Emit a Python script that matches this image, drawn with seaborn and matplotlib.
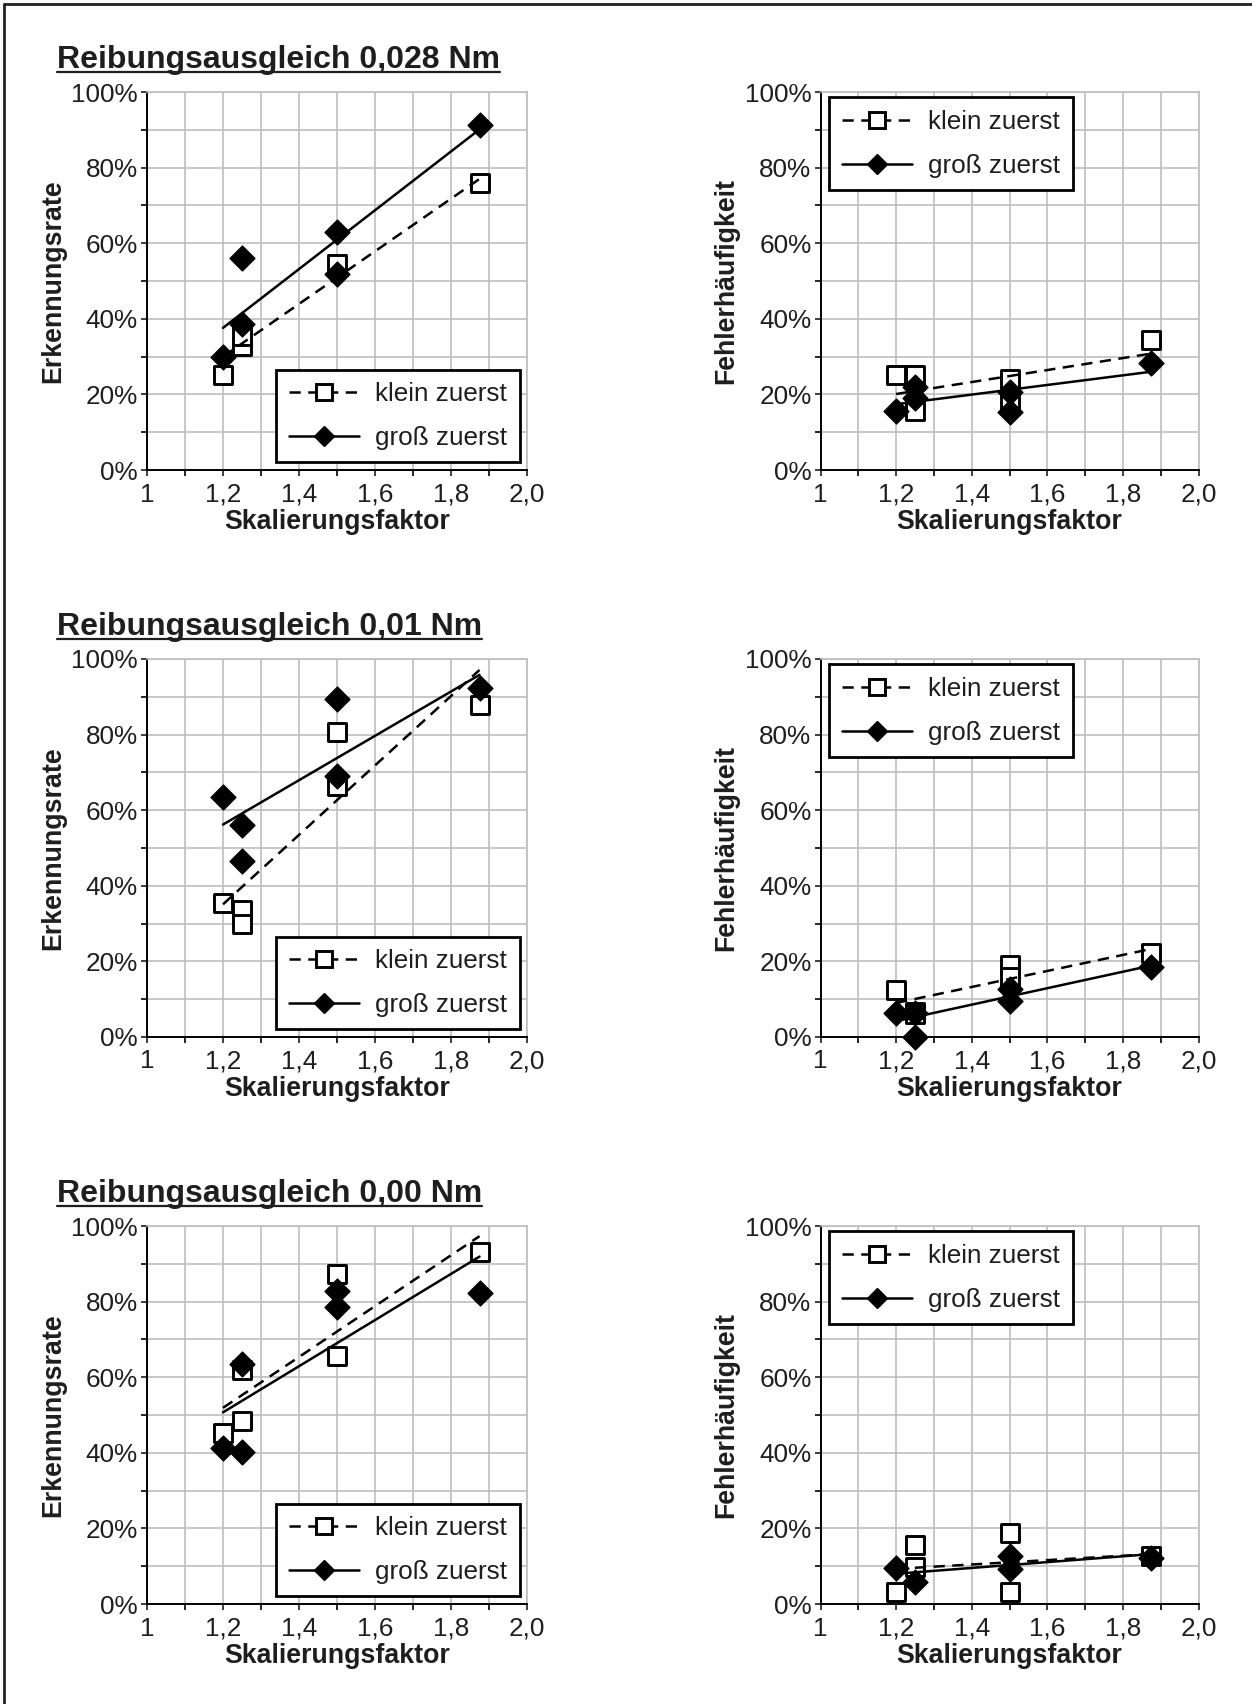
import numpy as np
import pandas as pd
import seaborn as sns
import matplotlib.pyplot as plt
from matplotlib.lines import Line2D
from matplotlib.ticker import MultipleLocator, FuncFormatter

titles = ["Reibungsausgleich 0,028 Nm", "Reibungsausgleich 0,01 Nm", "Reibungsausgleich 0,00 Nm"]
ylabel_left = "Erkennungsrate"
ylabel_right = "Fehlerhäufigkeit"
xlabel = "Skalierungsfaktor"
series_names = ["klein zuerst", "groß zuerst"]
trend_x = [1.2, 1.875]

# Erkennungsrate, 0,028 Nm
erk028_klein_x = [1.2, 1.25, 1.25, 1.5, 1.875]
erk028_klein_y = [25.1, 32.8, 35.4, 54.5, 76.0]
erk028_gross_x = [1.2, 1.25, 1.25, 1.5, 1.5, 1.875]
erk028_gross_y = [29.9, 56.0, 38.6, 63.0, 51.8, 91.3]
erk028_trend_klein = [30.0, 77.0]
erk028_trend_gross = [37.6, 90.1]

# Fehlerhaeufigkeit, 0,028 Nm
feh028_klein_x = [1.2, 1.25, 1.25, 1.5, 1.5, 1.875]
feh028_klein_y = [25.1, 25.1, 15.6, 24.0, 18.5, 34.5]
feh028_gross_x = [1.2, 1.25, 1.25, 1.5, 1.5, 1.875]
feh028_gross_y = [15.6, 21.9, 19.0, 20.7, 15.4, 28.2]
feh028_trend_klein = [20.1, 30.8]
feh028_trend_gross = [17.4, 26.0]

# Erkennungsrate, 0,01 Nm
erk001_klein_x = [1.2, 1.25, 1.25, 1.5, 1.5, 1.875]
erk001_klein_y = [35.5, 33.5, 29.8, 80.8, 66.4, 87.8]
erk001_gross_x = [1.2, 1.25, 1.25, 1.5, 1.5, 1.875]
erk001_gross_y = [63.4, 56.2, 46.6, 89.3, 69.1, 92.4]
erk001_trend_klein = [35.1, 97.1]
erk001_trend_gross = [56.2, 95.8]

# Fehlerhaeufigkeit, 0,01 Nm
feh001_klein_x = [1.2, 1.25, 1.25, 1.5, 1.5, 1.875]
feh001_klein_y = [12.4, 6.5, 6.0, 19.1, 16.0, 22.2]
feh001_gross_x = [1.2, 1.25, 1.25, 1.5, 1.5, 1.875]
feh001_gross_y = [6.3, 6.3, 0.0, 12.8, 9.4, 18.5]
feh001_trend_klein = [9.0, 23.3]
feh001_trend_gross = [4.2, 18.9]

# Erkennungsrate, 0,00 Nm
erk000_klein_x = [1.2, 1.25, 1.25, 1.5, 1.5, 1.875]
erk000_klein_y = [45.3, 48.3, 61.8, 87.2, 65.6, 93.0]
erk000_gross_x = [1.2, 1.25, 1.25, 1.5, 1.5, 1.875]
erk000_gross_y = [41.3, 40.2, 63.6, 82.9, 78.6, 82.2]
erk000_trend_klein = [51.9, 97.3]
erk000_trend_gross = [50.7, 91.9]

# Fehlerhaeufigkeit, 0,00 Nm
feh000_klein_x = [1.2, 1.25, 1.25, 1.5, 1.5, 1.875]
feh000_klein_y = [3.2, 15.6, 9.8, 18.9, 3.3, 12.8]
feh000_gross_x = [1.2, 1.25, 1.5, 1.5, 1.875]
feh000_gross_y = [9.5, 5.8, 12.8, 9.2, 12.3]
feh000_trend_klein = [9.3, 13.2]
feh000_trend_gross = [8.0, 13.2]

DASH = (0, (4.5, 3.0))

sns.set_style("whitegrid")
plt.rcParams['font.family'] = ['Liberation Sans', 'DejaVu Sans']


def x_fmt(v, pos):
    if abs(v - 1.0) < 1e-9:
        return "1"
    return f"{v:.1f}".replace(".", ",")


def draw_panel(ax, kx, ky, gx, gy, tk, tg, ylabel, left_col):
    sns.scatterplot(x=kx, y=ky, ax=ax, marker='s', s=150, color='white',
                    edgecolor='black', linewidth=2.1, zorder=3, clip_on=False)
    sns.lineplot(x=trend_x, y=tk, ax=ax, color='black', lw=1.8, linestyle=DASH, zorder=4)
    sns.lineplot(x=trend_x, y=tg, ax=ax, color='black', lw=1.8, zorder=4)
    sns.scatterplot(x=gx, y=gy, ax=ax, marker='D', s=160, color='black',
                    edgecolor='black', linewidth=1.0, zorder=5, clip_on=False)

    ax.set_xlim(1.0, 2.0)
    ax.set_ylim(0, 100)
    ax.xaxis.set_major_locator(MultipleLocator(0.2))
    ax.xaxis.set_minor_locator(MultipleLocator(0.1))
    ax.yaxis.set_major_locator(MultipleLocator(20))
    ax.yaxis.set_minor_locator(MultipleLocator(10))
    ax.xaxis.set_major_formatter(FuncFormatter(x_fmt))
    ax.yaxis.set_major_formatter(FuncFormatter(lambda v, p: f"{v:.0f}%"))
    ax.grid(which='both', color='#bdbdbd', lw=1.2)
    ax.set_axisbelow(True)
    ax.tick_params(which='both', bottom=True, left=True, direction='out',
                   length=4, width=1.2, color='black')
    ax.tick_params(axis='x', which='major', labelsize=18.8, pad=5, colors='#1e1e1e')
    ax.tick_params(axis='y', which='major', labelsize=18.8, pad=2.5, colors='#1e1e1e')
    for side in ['top', 'right']:
        ax.spines[side].set_color('#bdbdbd')
        ax.spines[side].set_linewidth(1.2)
    for side in ['left', 'bottom']:
        ax.spines[side].set_color('black')
        ax.spines[side].set_linewidth(1.4)

    ax.set_xlabel(xlabel, fontsize=19.3, fontweight='bold', labelpad=1.5, color='#1e1e1e')
    ax.set_ylabel(ylabel, fontsize=19.3, fontweight='bold', labelpad=4, color='#1e1e1e')

    handles = [
        Line2D([], [], color='black', lw=1.8, linestyle=DASH, marker='s', ms=11,
               mfc='white', mec='black', mew=2.1),
        Line2D([], [], color='black', lw=1.8, linestyle='-', marker='D', ms=10,
               mfc='black', mec='black'),
    ]
    if left_col:
        loc, anchor = 'lower right', (0.981, 0.02)
    else:
        loc, anchor = 'upper left', (0.0225, 0.986)
    leg = ax.legend(handles, series_names, loc=loc, bbox_to_anchor=anchor,
                    borderaxespad=0, frameon=True, fancybox=False, framealpha=1,
                    edgecolor='black', fontsize=18.8, handlelength=2.7,
                    handletextpad=0.62, borderpad=0.48, labelspacing=0.76)
    leg.get_frame().set_linewidth(2.0)
    for txt in leg.get_texts():
        txt.set_color('#1e1e1e')


fig = plt.figure(figsize=(12.52, 17.04), dpi=100)
W, H = 1252, 1704

panels = [
    (erk028_klein_x, erk028_klein_y, erk028_gross_x, erk028_gross_y, erk028_trend_klein, erk028_trend_gross,
     feh028_klein_x, feh028_klein_y, feh028_gross_x, feh028_gross_y, feh028_trend_klein, feh028_trend_gross),
    (erk001_klein_x, erk001_klein_y, erk001_gross_x, erk001_gross_y, erk001_trend_klein, erk001_trend_gross,
     feh001_klein_x, feh001_klein_y, feh001_gross_x, feh001_gross_y, feh001_trend_klein, feh001_trend_gross),
    (erk000_klein_x, erk000_klein_y, erk000_gross_x, erk000_gross_y, erk000_trend_klein, erk000_trend_gross,
     feh000_klein_x, feh000_klein_y, feh000_gross_x, feh000_gross_y, feh000_trend_klein, feh000_trend_gross),
]

title_texts = []
for row, p in enumerate(panels):
    top_px = 92 + 567 * row
    bottom = 1 - (top_px + 378) / H
    axl = fig.add_axes([147 / W, bottom, 380 / W, 378 / H])
    axr = fig.add_axes([820.5 / W, bottom, 378 / W, 378 / H])
    draw_panel(axl, *p[:6], ylabel_left, True)
    draw_panel(axr, *p[6:], ylabel_right, False)
    t = fig.text(56.5 / W, 1 - (68 + 567 * row) / H, titles[row], fontsize=23,
                 fontweight='bold', va='baseline', ha='left', color='#1e1e1e')
    title_texts.append((t, 68 + 567 * row))

# underline the titles
fig.canvas.draw()
renderer = fig.canvas.get_renderer()
for t, base in title_texts:
    bb = t.get_window_extent(renderer)
    y = 1 - (base + 4) / H
    fig.add_artist(Line2D([bb.x0 / W, bb.x1 / W], [y, y], transform=fig.transFigure,
                          color='#1e1e1e', lw=1.6))

# outer frame (left and top edge)
fig.add_artist(Line2D([4 / W, 4 / W], [0, 1 - 4 / H], transform=fig.transFigure, color='#222222', lw=2))
fig.add_artist(Line2D([4 / W, 1], [1 - 4 / H, 1 - 4 / H], transform=fig.transFigure, color='#222222', lw=2))

fig.savefig("out.png", dpi=100, facecolor='white')
